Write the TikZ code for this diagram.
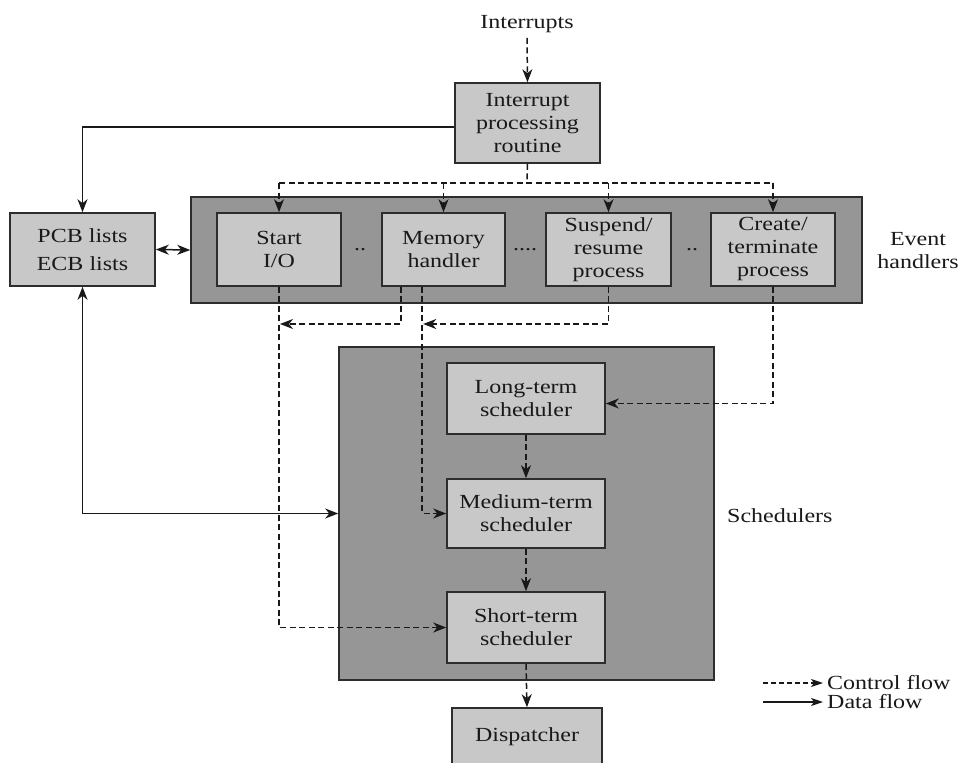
\documentclass[tikz,border=0pt]{standalone}
\usepackage{fontspec}
\setmainfont{Liberation Serif}[FakeStretch=1.2]
\usetikzlibrary{arrows.meta,calc}
\definecolor{lightbox}{RGB}{200,200,200}
\definecolor{darkbox}{RGB}{150,150,150}
\definecolor{edge}{RGB}{45,45,45}
\definecolor{ink}{RGB}{25,25,25}

\begin{document}
\begin{tikzpicture}[x=1pt,y=-1pt,
  every node/.style={font=\fontsize{20}{23}\selectfont, text=ink},
  >={Stealth[length=13pt,width=10pt,inset=4pt]},
  box/.style={draw=edge, line width=1.6pt, fill=lightbox, align=center, inner sep=0pt},
  group/.style={draw=edge, line width=1.6pt, fill=darkbox, inner sep=0pt},
  ctrlline/.style={draw=ink, line width=1.5pt, dash pattern=on 6pt off 3.5pt},
  ctrl/.style={ctrlline, ->},
  data/.style={draw=ink, line width=1.5pt},
  lbl/.style={align=center, inner sep=0pt}
]
\useasboundingbox[fill=white] (0,0) rectangle (964,763);

% containers
\node[group, minimum width=671, minimum height=106] (evh) at (526.5,250) {};
\node[group, minimum width=375, minimum height=333] (sched) at (526.5,513.5) {};

% top
\node[lbl, inner sep=5pt] (intr) at (527,24) {Interrupts};
\node[box, minimum width=145, minimum height=80] (ipr) at (527.5,123) {Interrupt\\processing\\routine};

% lists
\node[box, minimum width=145, minimum height=73, font=\fontsize{20}{28}\selectfont] (pcb) at (82.5,249.5) {PCB lists\\ECB lists};

% event handlers
\node[box, minimum width=124, minimum height=73] (start) at (279,249.5) {Start\\I/O};
\node[box, minimum width=123, minimum height=73] (mem) at (443.5,249.5) {Memory\\handler};
\node[box, minimum width=125, minimum height=73] (susp) at (608.5,249.5) {Suspend/\\resume\\process};
\node[box, minimum width=124, minimum height=73] (create) at (773,249.5) {Create/\\terminate\\process};
\node[lbl] (d1) at (360,250) {..};
\node[lbl] (d2) at (525,250) {....};
\node[lbl] (d3) at (692,250) {..};
\node[lbl] (evhlabel) at (918,251) {Event\\handlers};

% schedulers
\node[box, minimum width=158, minimum height=71] (long) at (526,398.5) {Long-term\\scheduler};
\node[box, minimum width=158, minimum height=69] (med) at (526,513.5) {Medium-term\\scheduler};
\node[box, minimum width=158, minimum height=71] (short) at (526,627.5) {Short-term\\scheduler};
\node[lbl, anchor=west] (schedlabel) at (727,516) {Schedulers};

\node[box, minimum width=150, minimum height=58] (disp) at (527,737) {Dispatcher};

% interrupt entry and fan-out to handlers
\draw[ctrl] (intr.south) -- (ipr.north);
\coordinate (bus) at (527,183);
\draw[ctrlline] (ipr.south) -- (bus);
\draw[ctrlline] (start.north |- bus) -- (create.north |- bus);
\draw[ctrl] (start.north |- bus) -- (start.north);
\draw[ctrl] (mem.north |- bus) -- (mem.north);
\draw[ctrl] (susp.north |- bus) -- (susp.north);
\draw[ctrl] (create.north |- bus) -- (create.north);

% data flows
\draw[data, ->] ([yshift=-4pt]ipr.west) -| (pcb.north);
\draw[data, <->] (pcb.east) -- (evh.west);
\draw[data, <->] (pcb.south) |- (sched.west);

% handler outputs
\coordinate (m1) at ($(mem.south west)+(20,0)$);
\coordinate (m2) at ($(mem.south west)+(41,0)$);
\draw[ctrl] (start.south) |- (short.west);
\draw[ctrl] (m1) |- ($(start.south |- 0,324)+(1,0)$);
\draw[ctrl] (m2) |- (med.west);
\draw[ctrl] (susp.south) |- ($(m2 |- 0,324)+(1,0)$);
\draw[ctrl] (create.south) |- ([yshift=-5pt]long.east);

% scheduler chain
\draw[ctrl] (long.south) -- (med.north);
\draw[ctrl] (med.south) -- (short.north);
\draw[ctrl] (short.south) -- (disp.north);

% legend
\coordinate (lc1) at (763,683);
\coordinate (lc2) at (823,683);
\coordinate (ld1) at (763,702);
\coordinate (ld2) at (823,702);
\draw[ctrlline, dash pattern=on 5pt off 3pt, -{Stealth[length=12pt,width=8pt,inset=3pt]}] (lc1) -- (lc2);
\draw[data, -{Stealth[length=12pt,width=8pt,inset=3pt]}] (ld1) -- (ld2);
\node[lbl, anchor=west] (lctrl) at (827,683) {Control flow};
\node[lbl, anchor=west] (ldata) at (827,702) {Data flow};
\end{tikzpicture}
\end{document}
